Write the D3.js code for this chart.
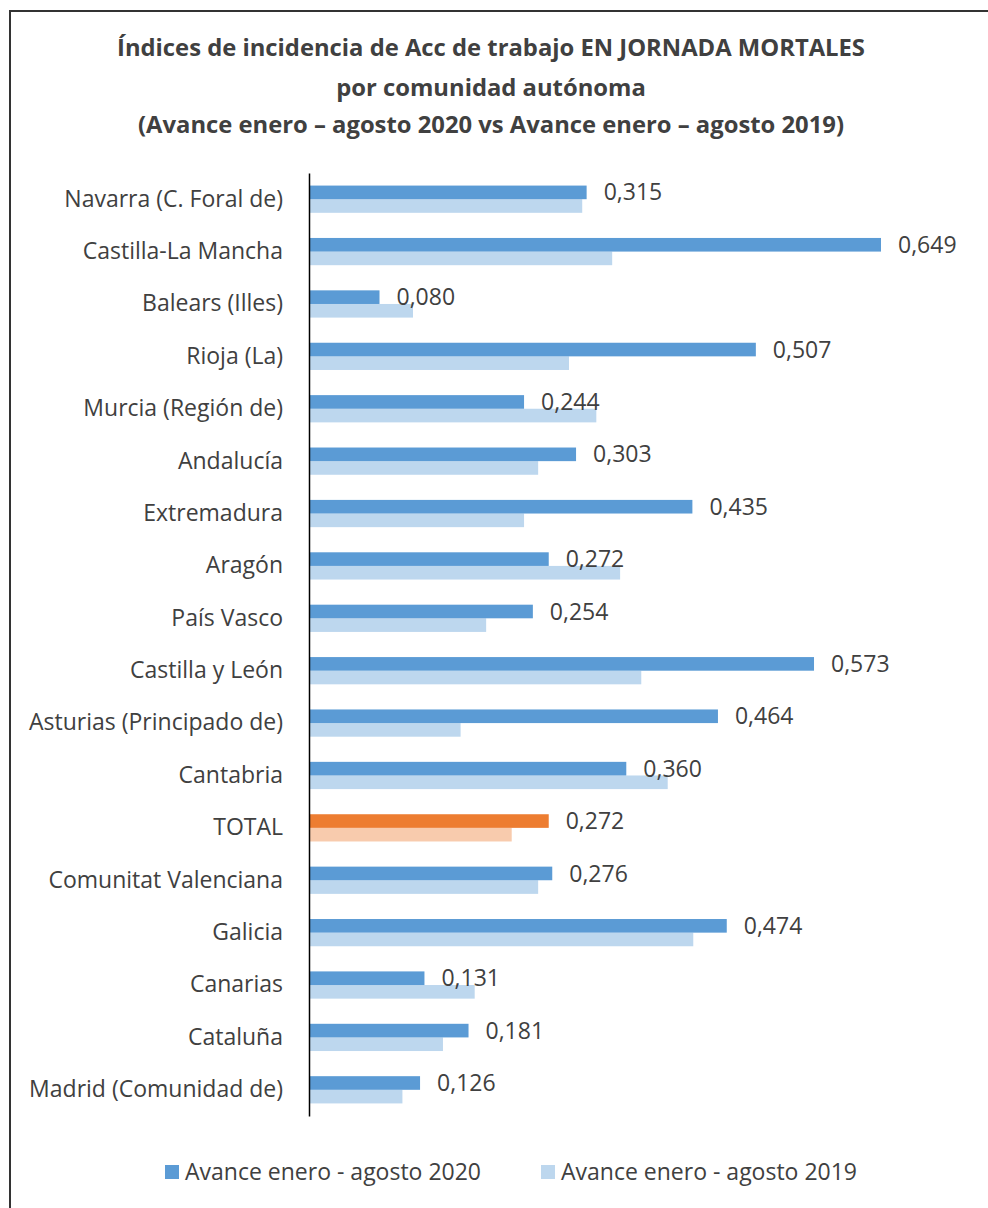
<!DOCTYPE html>
<html>
<head>
<meta charset="utf-8">
<script src="https://cdn.jsdelivr.net/npm/d3@7"></script>
<style>
  body { margin: 0; background: #fff; }
  svg text { font-family: "Open Sans", "Noto Sans", sans-serif; fill: #404040; }
</style>
</head>
<body>
<script>
// data (2019 values)
var categories = ["Navarra (C. Foral de)", "Castilla-La Mancha", "Balears (Illes)", "Rioja (La)",
  "Murcia (Región de)", "Andalucía", "Extremadura", "Aragón", "País Vasco", "Castilla y León",
  "Asturias (Principado de)", "Cantabria", "TOTAL", "Comunitat Valenciana", "Galicia",
  "Canarias", "Cataluña", "Madrid (Comunidad de)"];
var values2020 = [0.315, 0.649, 0.080, 0.507, 0.244, 0.303, 0.435, 0.272, 0.254, 0.573,
  0.464, 0.360, 0.272, 0.276, 0.474, 0.131, 0.181, 0.126];
var values2019 = [0.310, 0.344, 0.118, 0.295, 0.326, 0.260, 0.244, 0.353, 0.201, 0.377,
  0.172, 0.407, 0.230, 0.260, 0.436, 0.188, 0.152, 0.106];
var seriesNames = ["Avance enero - agosto 2020", "Avance enero - agosto 2019"];
var titleLines = ["Índices de incidencia de Acc de trabajo EN JORNADA MORTALES",
  "por comunidad autónoma",
  "(Avance enero – agosto 2020 vs Avance enero – agosto 2019)"];

var w = 988, h = 1208;
var svg = d3.select("body").append("svg")
    .attr("width", w)
    .attr("height", h);

// frame
svg.append("rect")
    .attr("x", 10).attr("y", 11)
    .attr("width", 1000).attr("height", 1220)
    .attr("fill", "none")
    .attr("stroke", "#333")
    .attr("stroke-width", 2);

// title
svg.selectAll(".title")
    .data(titleLines)
    .enter().append("text")
    .attr("class", "title")
    .attr("x", 491)
    .attr("y", function(d, i) { return [48, 88, 125][i]; })
    .attr("dy", "0.35em")
    .attr("text-anchor", "middle")
    .style("font-weight", "bold")
    .style("font-size", "23.8px")
    .text(function(d) { return d; });

var x0 = 309;
var xScale = d3.scaleLinear().domain([0, 0.649]).range([x0, 881]);
var yScale = d3.scaleBand().domain(categories).range([173, 1116])
    .paddingInner(0.48).paddingOuter(0.24);
var barH = yScale.bandwidth() / 2;

var rows = svg.selectAll(".row")
    .data(categories)
    .enter().append("g")
    .attr("class", "row")
    .attr("transform", function(d) { return "translate(0," + yScale(d) + ")"; });

rows.append("rect")
    .attr("x", x0)
    .attr("y", barH)
    .attr("width", function(d, i) { return xScale(values2019[i]) - x0; })
    .attr("height", barH)
    .attr("fill", function(d) { return d == "TOTAL" ? "#f8cbad" : "#bdd7ee"; });

rows.append("rect")
    .attr("x", x0)
    .attr("y", 0)
    .attr("width", function(d, i) { return xScale(values2020[i]) - x0; })
    .attr("height", barH)
    .attr("fill", function(d) { return d == "TOTAL" ? "#ed7d31" : "#5b9bd5"; });

// value labels (2020 only)
rows.append("text")
    .attr("x", function(d, i) { return xScale(values2020[i]) + 17; })
    .attr("y", barH / 2)
    .attr("dy", "0.35em")
    .style("font-size", "23px")
    .text(function(d, i) { return d3.format(".3f")(values2020[i]).replace(".", ","); });

// category axis
var yAxis = svg.append("g")
    .attr("transform", "translate(" + x0 + ",0)")
    .call(d3.axisLeft(yScale).tickSize(0).tickPadding(26));
yAxis.select(".domain").attr("stroke", "#000").attr("stroke-width", 1.5);
yAxis.selectAll("text")
    .style("font-size", "23px")
    .style("font-family", "'Open Sans', sans-serif")
    .attr("fill", "#404040");

// legend
var legend = svg.selectAll(".legend")
    .data(seriesNames)
    .enter().append("g")
    .attr("class", "legend")
    .attr("transform", function(d, i) { return "translate(" + [165, 541][i] + ",1172)"; });
legend.append("rect")
    .attr("x", 0).attr("y", -7)
    .attr("width", 14).attr("height", 14)
    .attr("fill", function(d, i) { return ["#5b9bd5", "#bdd7ee"][i]; });
legend.append("text")
    .attr("x", 20)
    .attr("dy", "0.35em")
    .style("font-size", "23px")
    .text(function(d) { return d; });
</script>
</body>
</html>
